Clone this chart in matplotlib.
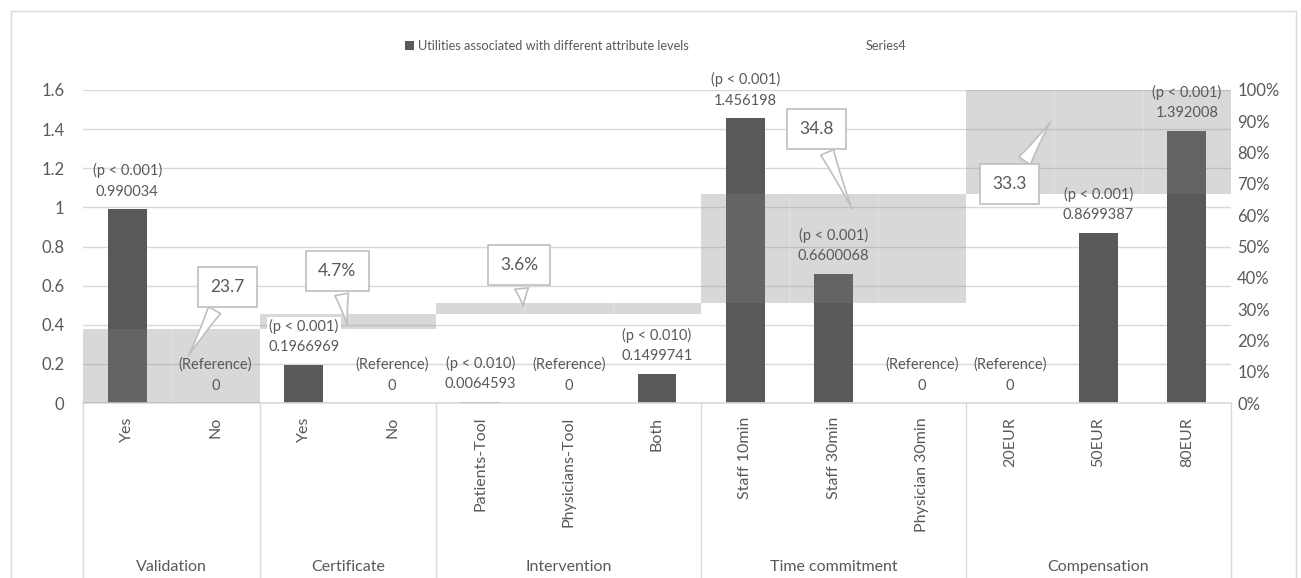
import numpy as np
import matplotlib.pyplot as plt
from matplotlib.patches import Patch, Rectangle
from matplotlib.transforms import blended_transform_factory

plt.rcParams['font.family'] = ['Lato', 'DejaVu Sans']

levels = ['Yes', 'No', 'Yes', 'No', 'Patients-Tool', 'Physicians-Tool', 'Both',
          'Staff 10min', 'Staff 30min', 'Physician 30min', '20EUR', '50EUR', '80EUR']
attributes = ['Validation', 'Certificate', 'Intervention', 'Time commitment', 'Compensation']
group_sizes = [2, 2, 3, 3, 3]
utilities = [0.990034, 0, 0.1966969, 0, 0.0064593, 0, 0.1499741,
             1.456198, 0.6600068, 0, 0, 0.8699387, 1.392008]
p_labels = ['(p < 0.001)', '(Reference)', '(p < 0.001)', '(Reference)', '(p < 0.010)',
            '(Reference)', '(p < 0.010)', '(p < 0.001)', '(p < 0.001)', '(Reference)',
            '(Reference)', '(p < 0.001)', '(p < 0.001)']
importance = [23.7, 4.7, 3.6, 34.8, 33.3]
importance_labels = ['23.7', '4.7%', '3.6%', '34.8', '33.3']

txt = '#595959'
grid = '#d9d9d9'

fig = plt.figure(figsize=(13.01, 5.78), dpi=100)
ax = fig.add_axes([83/1301, 1-403/578, 1148/1301, 313/578])
x = np.arange(len(levels))

ax.bar(x, utilities, width=0.44, color='#595959', zorder=2)
ax.set_xlim(-0.5, len(levels) - 0.5)
ax.set_ylim(0, 1.6)
yt = np.arange(0, 1.61, 0.2)
ax.set_yticks(yt)
ax.set_yticklabels([f'{v:g}' for v in yt])
ax.yaxis.grid(True, color=grid, lw=1)
ax.set_axisbelow(True)
for s in ['top', 'left', 'right']:
    ax.spines[s].set_visible(False)
ax.spines['bottom'].set_color(grid)
ax.spines['bottom'].set_linewidth(1.2)
ax.tick_params(axis='y', length=0, pad=13.5, labelsize=12, labelcolor=txt)
ax.set_xticks(x)
ax.set_xticklabels(levels, rotation=90, va='top', ha='center')
ax.tick_params(axis='x', length=0, pad=10, labelsize=11.5, labelcolor=txt)

# second axis: relative importance, stacked like a waterfall
ax2 = ax.twinx()
ax2.set_ylim(0, 100)
ax2.set_yticks(np.arange(0, 101, 10))
ax2.set_yticklabels([f'{v}%' for v in range(0, 101, 10)])
ax2.tick_params(axis='y', length=0, pad=4.5, labelsize=12, labelcolor=txt)
for s in ax2.spines.values():
    s.set_visible(False)

starts = np.concatenate([[0], np.cumsum(importance)[:-1]])
edges = np.concatenate([[0], np.cumsum(group_sizes)]) - 0.5
for g, (imp, b) in enumerate(zip(importance, starts)):
    idx = np.arange(edges[g] + 0.5, edges[g + 1])
    ax2.bar(idx, [imp] * len(idx), bottom=b, width=1, color=(0.5, 0.5, 0.5, 0.3), lw=0)
    inner = idx[:-1] + 0.5
    ax2.vlines(inner, b, b + imp, color=(1, 1, 1, 0.2), lw=1)

# data labels
for i, (v, p) in enumerate(zip(utilities, p_labels)):
    bg = dict(fc='white', ec='none', pad=1) if i == 2 else None
    ax2.annotate(f'{p}\n{v}', xy=(i, v), xycoords=ax.transData, xytext=(0, 7.5),
                 textcoords='offset points', ha='center', va='bottom', fontsize=10.5,
                 color=txt, linespacing=1.6, bbox=bg, zorder=5)

# callouts for the importance values
box_pos = [(1.14, 0.593), (2.38, 0.675), (4.44, 0.705), (7.81, 1.40), (9.99, 1.12)]
tip_pos = [(0.68, 0.23), (2.5, 0.383), (4.49, 0.48), (8.22, 0.98), (10.47, 1.447)]
for lab, bp, tp in zip(importance_labels, box_pos, tip_pos):
    ax2.annotate(lab, xy=tp, xycoords=ax.transData, xytext=bp, textcoords=ax.transData,
                 ha='center', va='center', fontsize=12.5, color=txt, zorder=6,
                 bbox=dict(boxstyle='square,pad=0.7', fc='white', ec='#bfbfbf', lw=1.2),
                 arrowprops=dict(arrowstyle='wedge,tail_width=0.8,shrink_factor=0.4',
                                 fc='white', ec='#bfbfbf', lw=1.2))

# multi-level category axis
tr = blended_transform_factory(ax.transData, ax.transAxes)
for e in edges:
    ax.plot([e, e], [0, -0.6], color=grid, lw=1, transform=tr, clip_on=False)
for g, name in enumerate(attributes):
    ax.text((edges[g] + edges[g + 1]) / 2, -0.524, name, transform=tr, ha='center',
            va='center', fontsize=11.5, color=txt)

handles = [Patch(fc='#595959'), Patch(fc='none', ec='none')]
fig.legend(handles, ['Utilities associated with different attribute levels', 'Series4'],
           loc='center', bbox_to_anchor=(0.504, 0.92), ncol=2, frameon=False,
           fontsize=9.2, labelcolor=txt, handlelength=0.75, handleheight=0.75,
           handletextpad=0.3, columnspacing=12.8)

fig.patches.append(Rectangle((11/1301, -0.01), 1285/1301, 1 - 11/578 + 0.01,
                             transform=fig.transFigure, fill=False, ec=grid, lw=1))

fig.savefig('out.png', dpi=100)
